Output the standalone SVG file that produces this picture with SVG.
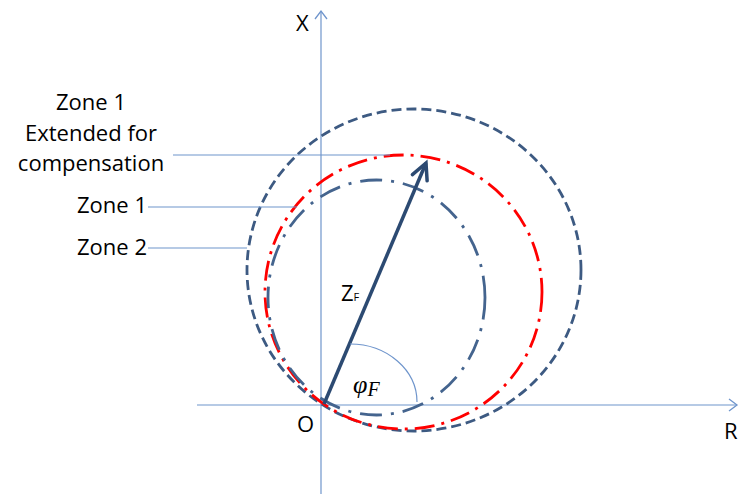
<svg xmlns="http://www.w3.org/2000/svg" width="740" height="494" viewBox="0 0 740 494">
<style>
.thin{stroke:#6f95cc;stroke-width:1.2;fill:none}
.lbl{font-family:"Open Sans","Liberation Sans",sans-serif;font-size:22px;fill:#000}
</style>
<defs>
<marker id="ax" markerUnits="userSpaceOnUse" markerWidth="20" markerHeight="20" refX="0" refY="0" orient="auto" overflow="visible">
<path d="M-8,-6 L0,0 L-8,6" fill="none" stroke="#6f95cc" stroke-width="1.3"/>
</marker>
<marker id="vec" markerUnits="userSpaceOnUse" markerWidth="30" markerHeight="30" refX="0" refY="0" orient="auto" overflow="visible">
<path d="M-16,-8 L0,0 L-16,8" fill="none" stroke="#2c4a72" stroke-width="3.5" stroke-linejoin="miter" stroke-linecap="round"/>
</marker>
</defs>
<g id="axes">
<line class="thin" x1="321" y1="494" x2="321" y2="11" marker-end="url(#ax)"/>
<line class="thin" x1="197" y1="405" x2="737" y2="405" marker-end="url(#ax)"/>
<text class="lbl" x="296" y="31">X</text>
<text class="lbl" x="724" y="439">R</text>
<text class="lbl" x="297" y="432">O</text>
</g>
<g id="zone2">
<ellipse cx="414" cy="270" rx="167" ry="161" fill="none" stroke="#3d5a82" stroke-width="2.8" stroke-dasharray="10 5"/>
</g>
<g id="zone1ext">
<ellipse cx="403.5" cy="292" rx="138.5" ry="137" fill="none" stroke="#ff0000" stroke-width="2.8" stroke-dasharray="20 7 3 7"/>
</g>
<g id="zone1">
<ellipse cx="376.5" cy="297.5" rx="108.5" ry="117.5" fill="none" stroke="#44648e" stroke-width="2.8" stroke-dasharray="22 9 3 9"/>
</g>
<g id="connectors">
<line class="thin" x1="173" y1="155" x2="390" y2="155"/>
<line class="thin" x1="148" y1="207" x2="297" y2="207"/>
<line class="thin" x1="148" y1="248" x2="247" y2="248"/>
</g>
<g id="labels">
<text class="lbl" x="91" y="110" text-anchor="middle">Zone 1</text>
<text class="lbl" x="91" y="141" text-anchor="middle">Extended for</text>
<text class="lbl" x="91" y="171" text-anchor="middle">compensation</text>
<text class="lbl" x="147" y="213" text-anchor="end">Zone 1</text>
<text class="lbl" x="147" y="255" text-anchor="end">Zone 2</text>
</g>
<g id="vector">
<line x1="324" y1="404" x2="426" y2="163" stroke="#2c4a72" stroke-width="3.5" marker-end="url(#vec)"/>
<text class="lbl" x="341" y="301">Z<tspan font-size="11">F</tspan></text>
</g>
<g id="angle">
<path class="thin" d="M350,344 A67,58 0 0 1 417,402" stroke-width="1"/>
<text x="353" y="393" font-family="Liberation Serif,serif" font-style="italic" font-size="26">φ<tspan font-size="20" dy="3">F</tspan></text>
</g>
</svg>
